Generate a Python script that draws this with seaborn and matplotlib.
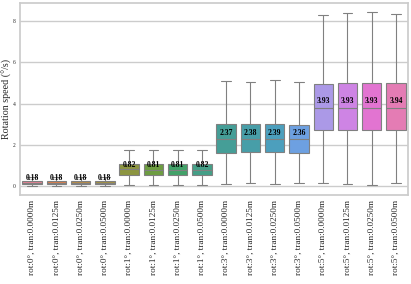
import matplotlib
matplotlib.use("Agg")
import matplotlib.pyplot as plt
import pandas as pd
import seaborn as sns

# five-number summaries: (min, q1, median, q3, max)
rots = [0, 0, 0, 0, 1, 1, 1, 1, 3, 3, 3, 3, 5, 5, 5, 5]
trans = ["0.0000", "0.0125", "0.0250", "0.0500"] * 4
whis_lo = [0.00, 0.00, 0.00, 0.00, 0.03, 0.03, 0.03, 0.02,
           0.08, 0.12, 0.07, 0.12, 0.12, 0.07, 0.02, 0.12]
q1 = [0.08, 0.08, 0.08, 0.08, 0.53, 0.53, 0.53, 0.53,
      1.61, 1.62, 1.64, 1.61, 2.71, 2.69, 2.69, 2.71]
median = [0.15, 0.15, 0.15, 0.15, 0.80, 0.77, 0.77, 0.78,
          2.29, 2.30, 2.29, 2.26, 3.79, 3.79, 3.79, 3.79]
q3 = [0.24, 0.24, 0.24, 0.24, 1.08, 1.05, 1.05, 1.05,
      3.01, 3.00, 3.01, 2.97, 4.95, 4.99, 4.99, 4.99]
whis_hi = [0.45, 0.45, 0.45, 0.45, 1.74, 1.72, 1.72, 1.74,
           5.09, 5.04, 5.12, 5.04, 8.31, 8.42, 8.47, 8.36]
means = [0.18, 0.18, 0.18, 0.18, 0.82, 0.81, 0.81, 0.82,
         2.37, 2.38, 2.39, 2.36, 3.93, 3.93, 3.93, 3.94]

labels = [f"rot:{r}°, tran:{t}m" for r, t in zip(rots, trans)]

rows = []
for lab, a, b, c, d, e in zip(labels, whis_lo, q1, median, q3, whis_hi):
    for v in (a, b, c, d, e):
        rows.append({"config": lab, "speed": v})
df = pd.DataFrame(rows)

sns.set_theme(style="whitegrid")
plt.rcParams["font.family"] = ["Liberation Serif", "DejaVu Serif"]

fig, ax = plt.subplots(figsize=(4.11, 2.84), dpi=100)
sns.boxplot(data=df, x="config", y="speed", hue="config", order=labels,
            palette=sns.color_palette("husl", len(labels)), whis=(0, 100),
            linewidth=0.8, linecolor=".5", legend=False, ax=ax)

# mean value printed on each box
for i, m in enumerate(means):
    ax.text(i, m, f"{m:.2f}", ha="center", va="bottom",
            fontsize=5.5, fontweight="bold", color="black")

ax.set_xlabel("")
ax.set_ylabel("Rotation speed (°/s)", fontsize=7.2)
ax.yaxis.set_label_coords(-0.021, 0.5)
ax.tick_params(axis="x", labelsize=6.6, rotation=90, length=0, pad=4)
ax.tick_params(axis="y", labelsize=4, length=0, pad=3)

fig.subplots_adjust(left=0.0487, right=0.993, top=0.99, bottom=0.315)
fig.savefig("out.png", dpi=100)
